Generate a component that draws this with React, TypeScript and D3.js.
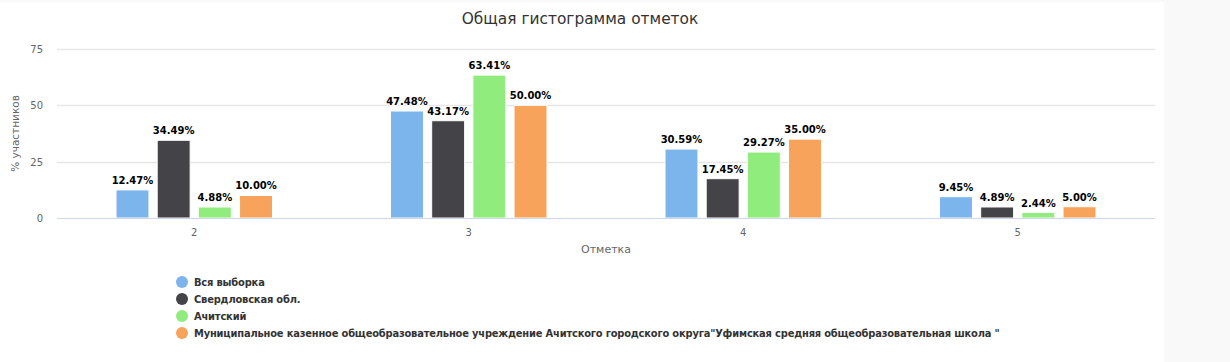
import React, { useEffect, useRef } from "react";
import * as d3 from "d3";

const categories = ["2", "3", "4", "5"];
const seriesNames = [
  "Вся выборка",
  "Свердловская обл.",
  "Ачитский",
  'Муниципальное казенное общеобразовательное учреждение Ачитского городского округа"Уфимская средняя общеобразовательная школа "',
];
const allSample = [12.47, 47.48, 30.59, 9.45];
const sverdlovsk = [34.49, 43.17, 17.45, 4.89];
const achitsky = [4.88, 63.41, 29.27, 2.44];
const school = [10.0, 50.0, 35.0, 5.0];
const yTicks = [0, 25, 50, 75];
const colors = ["#7cb5ec", "#434348", "#90ed7d", "#f7a35c"];

const App = () => {
  const chartRef = useRef(null);

  useEffect(() => {
    d3.select(chartRef.current).selectAll("*").remove();

    const width = 1230;
    const height = 362;
    const chartWidth = 1164;
    const margin = { top: 49, right: chartWidth - 1155, bottom: height - 218, left: 57 };
    const font = "'DejaVu Sans', Verdana, sans-serif";
    const series = [allSample, sverdlovsk, achitsky, school];

    const svg = d3
      .select(chartRef.current)
      .append("svg")
      .attr("width", width)
      .attr("height", height)
      .style("position", "absolute")
      .style("left", 0)
      .style("top", 0)
      .style("font-family", font);

    svg.append("rect").attr("width", width).attr("height", height).attr("fill", "#f9f9f9");
    svg
      .append("rect")
      .attr("y", 2)
      .attr("width", chartWidth)
      .attr("height", height - 2)
      .attr("fill", "#fff");

    const x = d3
      .scaleBand()
      .domain(categories)
      .range([margin.left, chartWidth - margin.right]);

    const inner = d3
      .scaleBand()
      .domain(d3.range(series.length).map(String))
      .range([0, x.bandwidth() * 0.6])
      .paddingInner(0.2)
      .paddingOuter(0.1);

    const y = d3
      .scaleLinear()
      .domain([0, 75])
      .range([height - margin.bottom, margin.top]);

    // gridlines
    svg
      .append("g")
      .selectAll("line")
      .data(yTicks.filter((t) => t > 0))
      .enter()
      .append("line")
      .attr("x1", margin.left)
      .attr("x2", chartWidth - margin.right)
      .attr("y1", (d) => Math.round(y(d)) + 0.5)
      .attr("y2", (d) => Math.round(y(d)) + 0.5)
      .attr("stroke", "#e6e6e6")
      .attr("stroke-width", 1.5);

    // y labels
    svg
      .append("g")
      .selectAll("text")
      .data(yTicks)
      .enter()
      .append("text")
      .attr("x", 43)
      .attr("y", (d) => y(d) + 4)
      .attr("text-anchor", "end")
      .attr("font-size", 10)
      .attr("fill", "#666")
      .text((d) => d);

    svg
      .append("text")
      .attr("transform", `translate(19,${(y(0) + y(75)) / 2}) rotate(-90)`)
      .attr("text-anchor", "middle")
      .attr("font-size", 10.5)
      .attr("fill", "#666")
      .text("% участников");

    // bars
    const groups = svg
      .append("g")
      .selectAll("g")
      .data(series)
      .enter()
      .append("g")
      .attr("fill", (d, i) => colors[i]);

    groups.each(function (vals, si) {
      const g = d3.select(this);
      const off = x.bandwidth() * 0.2 + inner(String(si));
      g.selectAll("rect")
        .data(vals)
        .enter()
        .append("rect")
        .attr("x", (d, ci) => x(categories[ci]) + off)
        .attr("y", (d) => y(d))
        .attr("width", inner.bandwidth())
        .attr("height", (d) => y(0) - y(d))
        .attr("stroke", "#fff")
        .attr("stroke-width", 1);

      g.selectAll("text")
        .data(vals)
        .enter()
        .append("text")
        .attr("x", (d, ci) => x(categories[ci]) + off + inner.bandwidth() / 2)
        .attr("y", (d) => y(d) - 6)
        .attr("text-anchor", "middle")
        .attr("font-size", 10)
        .attr("font-weight", "bold")
        .attr("fill", "#000")
        .attr("stroke", "#fff")
        .attr("stroke-width", 2)
        .attr("paint-order", "stroke")
        .text((d) => d.toFixed(2) + "%");
    });

    // x axis
    svg
      .append("line")
      .attr("x1", margin.left)
      .attr("x2", chartWidth - margin.right)
      .attr("y1", y(0) + 0.5)
      .attr("y2", y(0) + 0.5)
      .attr("stroke", "#ccd6eb");

    svg
      .append("g")
      .selectAll("text")
      .data(categories)
      .enter()
      .append("text")
      .attr("x", (d) => x(d) + x.bandwidth() / 2)
      .attr("y", 236)
      .attr("text-anchor", "middle")
      .attr("font-size", 10)
      .attr("fill", "#666")
      .text((d) => d);

    svg
      .append("text")
      .attr("x", (margin.left + chartWidth - margin.right) / 2)
      .attr("y", 253)
      .attr("text-anchor", "middle")
      .attr("font-size", 11)
      .attr("fill", "#666")
      .text("Отметка");

    // title
    svg
      .append("text")
      .attr("x", 580)
      .attr("y", 24)
      .attr("text-anchor", "middle")
      .attr("font-size", 15.4)
      .attr("fill", "#333")
      .text("Общая гистограмма отметок");

    // legend
    const legend = svg
      .append("g")
      .selectAll("g")
      .data(seriesNames)
      .enter()
      .append("g")
      .attr("transform", (d, i) => `translate(182,${282 + i * 17})`);

    legend
      .append("circle")
      .attr("r", 6)
      .attr("fill", (d, i) => colors[i]);

    legend
      .append("text")
      .attr("x", 12)
      .attr("y", 4)
      .attr("font-family", "'DejaVu Sans Condensed', 'DejaVu Sans', sans-serif")
      .attr("font-size", 11)
      .attr("font-weight", "bold")
      .attr("letter-spacing", -0.18)
      .attr("fill", "#333")
      .text((d) => d);
  }, []);

  return <div ref={chartRef}></div>;
};

export default App;
